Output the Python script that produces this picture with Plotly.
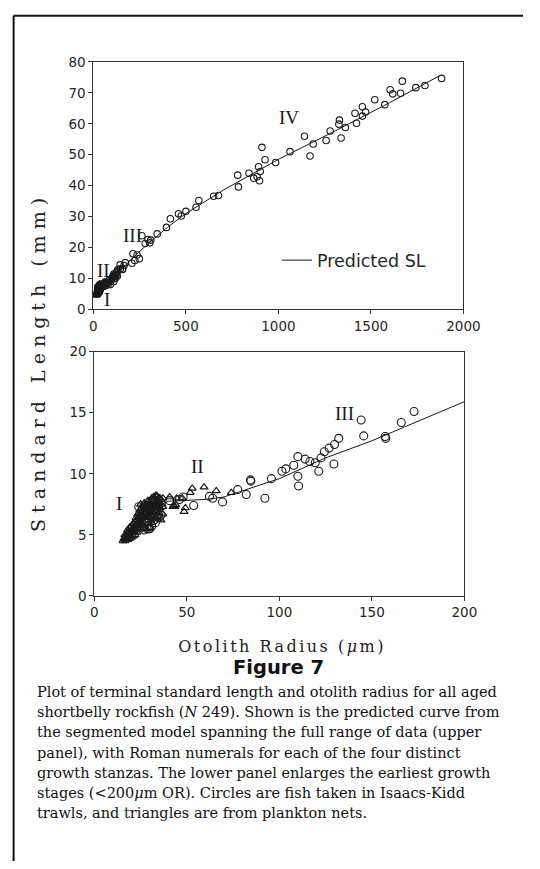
import plotly.graph_objects as go

# ---------------- data ----------------
# Predicted SL curve of the segmented model (otolith radius um, SL mm)
pred_or = [15, 20, 25, 30, 35, 40, 50, 60, 70, 75, 100, 125, 150, 200, 250, 300,
           400, 500, 700, 1000, 1300, 1600, 1870]
pred_sl = [4.4, 5.2, 6.0, 6.7, 7.4, 7.75, 7.8, 7.9, 8.1, 8.35, 9.6, 11.3, 12.7, 15.9,
           18.8, 21.5, 26.5, 31.0, 38.5, 48.5, 57.5, 66.8, 75.5]

# Circles: fish taken in Isaacs-Kidd trawls
circ_or = [27, 28.5, 29.5, 30, 31, 32, 33, 34, 35, 36, 29, 30, 26, 24, 31.5, 33, 34.5, 22, 25, 36.5,
           40.7, 46, 48, 53.7, 62.2, 64.0, 69.3, 77.5, 82.1, 84.4, 84.6, 92.2, 95.7, 101.4, 103.5,
           107.8, 110.0, 110.0, 110.4, 113.9, 116.5, 119.4, 121.3, 122.5, 124.3, 126.9, 129.5, 129.8,
           132.1, 144.2, 145.6, 157.2, 157.5, 165.9, 172.8,
           208, 214, 224, 236, 248, 262, 280, 295, 305, 310, 345, 395, 416, 460, 475, 500, 555, 570,
           650, 676, 780, 784, 841, 867, 885, 893, 898, 902, 911, 928, 985, 1063, 1141, 1171, 1188,
           1258, 1280, 1327, 1330, 1339, 1362, 1414, 1422, 1454, 1454, 1471, 1521, 1575, 1604, 1618,
           1660, 1670, 1743, 1792, 1882]
circ_sl = [5.4, 5.5, 5.5, 5.5, 5.7, 6.2, 6.0, 6.5, 6.4, 6.6, 7.4, 7.2, 7.0, 7.3, 6.4, 7.8, 8.0, 5.9, 6.3, 7.4,
           7.8, 7.9, 8.1, 7.4, 8.15, 8.0, 7.7, 8.7, 8.3, 9.5, 9.4, 8.0, 9.6, 10.2, 10.4,
           10.7, 11.4, 9.8, 9.0, 11.2, 11.0, 10.9, 10.2, 11.3, 11.8, 12.1, 10.8, 12.4,
           12.9, 14.4, 13.1, 13.05, 12.9, 14.2, 15.1,
           14.9, 18.0, 15.8, 17.6, 16.4, 23.8, 21.3, 22.6, 21.5, 22.4, 24.4, 26.5, 29.3, 30.9, 30.2, 31.7, 33.0, 35.2,
           36.6, 36.8, 43.4, 39.6, 44.0, 42.4, 42.9, 46.1, 41.6, 44.6, 52.4, 48.4, 47.5, 51.0, 56.0, 49.6, 53.5,
           54.6, 57.7, 59.9, 61.2, 55.4, 58.8, 63.4, 60.2, 62.5, 65.5, 63.8, 67.8, 66.2, 71.0, 69.7,
           69.9, 73.8, 71.7, 72.4, 74.7]

# Triangles: fish taken in plankton nets
tri_or = [15.5, 16, 16.5, 16.5, 17, 17, 17.5, 17.5, 18, 18, 18, 18.5, 18.5, 19, 19, 19, 19.5, 19.5,
          20, 20, 20, 20.5, 20.5, 21, 21, 21, 21.5, 21.5, 22, 22, 22, 22.5, 22.5, 23, 23, 23,
          23.5, 23.5, 24, 24, 24, 24.5, 24.5, 25, 25, 25, 25, 25.5, 25.5, 26, 26, 26, 26.5, 26.5,
          27, 27, 27, 27, 27.5, 27.5, 28, 28, 28, 28, 28.5, 28.5, 29, 29, 29, 29, 29.5, 29.5,
          30, 30, 30, 30, 30.5, 30.5, 31, 31, 31, 31, 31.5, 31.5, 32, 32, 32, 32.5, 32.5,
          33, 33, 33, 33.5, 33.5, 34, 34, 34, 34.5, 35, 35, 35, 35.5, 36, 36, 36, 37, 37,
          33.8, 37.1, 40.7, 44.5, 47.5, 48.5, 49.2, 51.8, 52.9, 59.3, 65.9, 74.0,
          42.5, 43, 43.5, 44]
tri_sl = [4.5, 4.7, 4.5, 5.0, 4.8, 4.6, 5.1, 4.7, 5.0, 4.6, 5.4, 4.9, 5.2, 5.1, 4.7, 5.6, 5.3, 4.9,
          5.2, 5.7, 4.8, 5.5, 5.0, 5.3, 5.9, 4.9, 5.6, 5.2, 5.4, 6.1, 5.0, 5.8, 6.4, 5.6, 6.2, 5.2,
          6.0, 6.7, 5.8, 6.5, 5.4, 6.2, 7.0, 6.0, 6.8, 7.5, 5.5, 6.4, 7.2, 6.6, 5.8, 7.4, 6.9, 6.1,
          7.1, 6.4, 7.6, 5.6, 6.7, 7.3, 6.9, 6.2, 7.5, 5.5, 7.1, 6.5, 7.3, 6.7, 5.9, 7.8, 6.9, 7.5,
          7.1, 6.4, 7.7, 5.6, 7.3, 6.8, 7.5, 6.6, 8.0, 6.0, 7.2, 7.7, 7.4, 6.8, 8.1, 7.0, 7.6,
          7.3, 6.5, 8.2, 7.5, 6.9, 7.7, 7.1, 6.3, 7.4, 7.6, 6.8, 8.0, 7.2, 7.5, 6.2, 7.9, 7.3, 6.7,
          8.2, 8.0, 8.1, 8.0, 8.0, 6.9, 7.2, 8.45, 8.8, 8.9, 8.6, 8.45,
          7.3, 7.4, 7.3, 7.45]

top_xticks = [0, 500, 1000, 1500, 2000]
top_yticks = [0, 10, 20, 30, 40, 50, 60, 70, 80]
bot_xticks = [0, 50, 100, 150, 200]
bot_yticks = [0, 5, 10, 15, 20]

caption_lines = [
    "Plot of terminal standard length and otolith radius for all aged",
    "shortbelly rockfish (<i>N</i> 249). Shown is the predicted curve from",
    "the segmented model spanning the full range of data (upper",
    "panel), with Roman numerals for each of the four distinct",
    "growth stanzas. The lower panel enlarges the earliest growth",
    "stages (&lt;200<i>μ</i>m OR). Circles are fish taken in Isaacs-Kidd",
    "trawls, and triangles are from plankton nets.",
]

# ---------------- figure ----------------
W, H = 540, 869
INK = "#1a1a1a"

def px(x):
    return x / W

def py(y):
    return 1 - y / H

fig = go.Figure()

for xa, ya, csize, tsize in (("x", "y", 6.5, 6), ("x2", "y2", 8, 7)):
    fig.add_trace(go.Scatter(x=circ_or, y=circ_sl, mode="markers", xaxis=xa, yaxis=ya,
                             marker=dict(symbol="circle-open", size=csize, color=INK,
                                         line=dict(width=1.1, color=INK)),
                             showlegend=False, hoverinfo="skip"))
    fig.add_trace(go.Scatter(x=tri_or, y=tri_sl, mode="markers", xaxis=xa, yaxis=ya,
                             marker=dict(symbol="triangle-up-open", size=tsize, color=INK,
                                         line=dict(width=1.2, color=INK)),
                             showlegend=False, hoverinfo="skip"))
    fig.add_trace(go.Scatter(x=pred_or, y=pred_sl, mode="lines", xaxis=xa, yaxis=ya,
                             line=dict(color=INK, width=1),
                             name="Predicted SL", showlegend=(xa == "x"),
                             hoverinfo="skip"))

axis_common = dict(showline=True, linecolor="#333", linewidth=1, mirror=True,
                   ticks="outside", ticklen=4, tickcolor="#333", showgrid=False,
                   zeroline=False, tickfont=dict(family="DejaVu Sans", size=13.5, color="#262626"))

fig.update_layout(
    width=W, height=H, autosize=False,
    margin=dict(l=0, r=0, t=0, b=0),
    paper_bgcolor="white", plot_bgcolor="white",
    xaxis=dict(domain=[px(93), px(478)], range=[0, 2000], tickvals=top_xticks,
               anchor="y", **axis_common),
    yaxis=dict(domain=[py(307), py(55)], range=[0, 80], tickvals=top_yticks,
               anchor="x", **axis_common),
    xaxis2=dict(domain=[px(94), px(479)], range=[0, 200], tickvals=bot_xticks,
                anchor="y2", **axis_common),
    yaxis2=dict(domain=[py(599), py(350)], range=[0, 20], tickvals=bot_yticks,
                anchor="x2", **axis_common),
    legend=dict(x=px(284), y=py(257), xanchor="left", yanchor="middle",
                bgcolor="rgba(0,0,0,0)", borderwidth=0, itemwidth=30,
                font=dict(family="DejaVu Sans", size=17.5, color="#262626")),
    showlegend=True,
)

ann = []
roman_font = dict(family="Liberation Serif", size=19, color=INK)
for txt, x, y, xr, yr in (("IV", 1055, 62, "x", "y"), ("III", 210, 23.8, "x", "y"),
                          ("II", 57, 12.7, "x", "y"), ("I", 73, 3.2, "x", "y"),
                          ("I", 13.3, 7.6, "x2", "y2"), ("II", 55.8, 10.6, "x2", "y2"),
                          ("III", 135, 14.9, "x2", "y2")):
    ann.append(dict(text=txt, x=x, y=y, xref=xr, yref=yr, showarrow=False,
                    font=roman_font, xanchor="center", yanchor="middle"))

ann.append(dict(text="Standard Length (mm)", x=px(36), y=py(361), xref="paper", yref="paper",
                showarrow=False, textangle=-90, xanchor="center", yanchor="middle",
                font=dict(family="DejaVu Serif", size=19, color="#222")))
ann.append(dict(text="Otolith Radius (<i>μ</i>m)", x=px(289), y=py(650), xref="paper", yref="paper",
                showarrow=False, xanchor="center", yanchor="middle",
                font=dict(family="DejaVu Serif", size=16, color="#222")))
ann.append(dict(text="<b>Figure 7</b>", x=px(286), y=py(672), xref="paper", yref="paper",
                showarrow=False, xanchor="center", yanchor="middle",
                font=dict(family="DejaVu Sans", size=19.5, color="#111")))
for i, line in enumerate(caption_lines):
    ann.append(dict(text=line, x=px(32), y=py(697 + 20.5 * i), xref="paper", yref="paper",
                    showarrow=False, xanchor="left", yanchor="middle",
                    font=dict(family="DejaVu Serif", size=14.5, color="#111")))
fig.update_layout(annotations=ann)

fig.update_layout(shapes=[
    dict(type="line", xref="paper", yref="paper", x0=px(10), x1=1, y0=py(8), y1=py(8),
         line=dict(color="#111", width=2)),
    dict(type="line", xref="paper", yref="paper", x0=px(10), x1=px(10), y0=py(8), y1=0,
         line=dict(color="#111", width=2)),
])

post = """
document.documentElement.style.margin = '0';
document.documentElement.style.padding = '0';
document.body.style.margin = '0';
document.body.style.padding = '0';
document.body.style.overflow = 'hidden';
var gd = document.getElementById('{plot_id}');
gd.querySelectorAll('text.annotation-text').forEach(function(t){
  var s = t.textContent;
  if (s.indexOf('Standard Length') === 0) { t.setAttribute('letter-spacing', '6px'); }
  if (s.indexOf('Otolith Radius') === 0) { t.setAttribute('letter-spacing', '2.5px'); }
});
"""

fig.write_html("out.html", post_script=post, config={"displayModeBar": False})
